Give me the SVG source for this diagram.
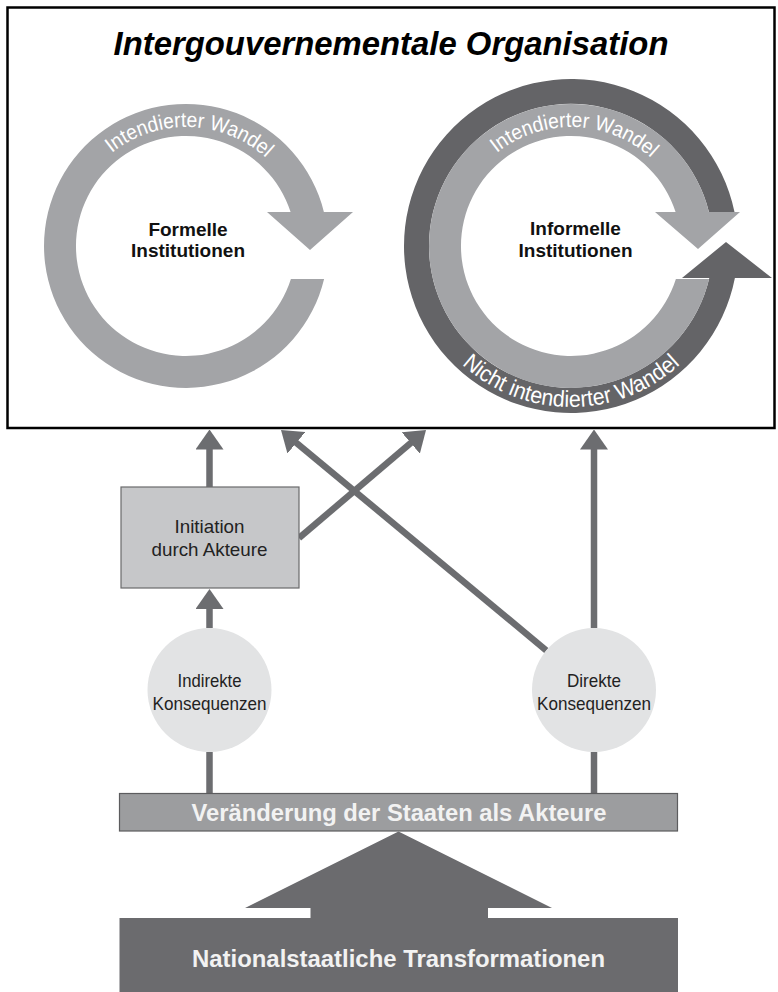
<svg xmlns="http://www.w3.org/2000/svg" width="778" height="992" viewBox="0 0 778 992">
<defs>
<style>
text{font-family:"Liberation Sans",Arial,sans-serif}
.title{font-size:33px;font-weight:bold;font-style:italic;fill:#000}
.inst{font-size:19px;font-weight:bold;fill:#111}
.ring-t{font-size:21px;fill:#fff}
.ring-b{font-size:23px;fill:#fff}
.lbl{font-size:19px;fill:#222}
.clbl{font-size:19px;fill:#222}
.bar-t{font-size:24px;font-weight:bold;fill:#f2f2f2}
.light{fill:#a3a4a7}
.dark{fill:#646467}
.conn{stroke:#6c6d70;stroke-width:6.5;fill:none}
.arr{marker-end:url(#ah)}
</style>
<marker id="ah" viewBox="0 0 20 28" refX="10" refY="14" markerWidth="20" markerHeight="28" markerUnits="userSpaceOnUse" orient="auto">
<path d="M0,0 L20,14 L0,28 Z" fill="#6c6d70"/>
</marker>
<path id="tpL" d="M67,246 A119,119 0 0 1 305,246"/>
<path id="tpR" d="M452,246 A119,119 0 0 1 690,246"/>
<path id="tpB" d="M410,246 A161,161 0 0 0 732,246"/>
</defs>
<rect width="778" height="992" fill="#fff"/>
<g id="org">
<rect x="7.5" y="7.5" width="767" height="420.5" fill="#fff" stroke="#000" stroke-width="2.5"/>
<text class="title" x="391" y="55" text-anchor="middle" textLength="555" lengthAdjust="spacingAndGlyphs">Intergouvernementale Organisation</text>
</g>
<g id="formelle">
<path class="light" d="M290.9,279 L324.1,279 A142,142 0 1 1 323.9,212 L353,212 L310,250 L267,212 L290.6,212 A110,110 0 1 0 290.9,279 Z"/>
<text class="ring-t"><textPath href="#tpL" startOffset="51%" text-anchor="middle" textLength="168" lengthAdjust="spacingAndGlyphs">Intendierter Wandel</textPath></text>
<text class="inst" x="188" y="236" text-anchor="middle">Formelle</text>
<text class="inst" x="188" y="257" text-anchor="middle">Institutionen</text>
</g>
<g id="informelle">
<path class="dark" d="M708.9,212 L734.5,212 A167,167 0 1 0 734.9,278 L772,278 L726,242 L682,278 L709.3,278 A142,142 0 1 1 708.9,212 Z"/>
<path class="light" d="M675.9,279 L709.1,279 A142,142 0 1 1 708.9,212 L740,212 L698,249 L655,212 L675.6,212 A110,110 0 1 0 675.9,279 Z"/>
<text class="ring-t"><textPath href="#tpR" startOffset="51%" text-anchor="middle" textLength="168" lengthAdjust="spacingAndGlyphs">Intendierter Wandel</textPath></text>
<text class="ring-b"><textPath href="#tpB" startOffset="50%" text-anchor="middle" textLength="240" lengthAdjust="spacingAndGlyphs">Nicht intendierter Wandel</textPath></text>
<text class="inst" x="575.5" y="235" text-anchor="middle">Informelle</text>
<text class="inst" x="575.5" y="257" text-anchor="middle">Institutionen</text>
</g>
<g id="connectors">
<line class="conn arr" x1="209.5" y1="487" x2="209.5" y2="439.5"/>
<line class="conn arr" x1="209.5" y1="628" x2="209.5" y2="599"/>
<line class="conn arr" x1="594" y1="628" x2="594" y2="439.5"/>
<line class="conn arr" x1="546.3" y1="650.4" x2="288.7" y2="436.4"/>
<line class="conn arr" x1="299" y1="538" x2="418.4" y2="436.5"/>
<line class="conn" x1="209.5" y1="752" x2="209.5" y2="793"/>
<line class="conn" x1="594" y1="752" x2="594" y2="793"/>
</g>
<g id="initiation">
<rect x="121" y="487" width="178" height="101" fill="#c6c7c9" stroke="#6a6a6c" stroke-width="1.2"/>
<text class="lbl" x="209.5" y="533" text-anchor="middle" textLength="70" lengthAdjust="spacingAndGlyphs">Initiation</text>
<text class="lbl" x="209.5" y="556" text-anchor="middle" textLength="116" lengthAdjust="spacingAndGlyphs">durch Akteure</text>
</g>
<g id="indirekte">
<circle cx="209.5" cy="690" r="62" fill="#e2e3e4"/>
<text class="clbl" x="209.5" y="687" text-anchor="middle" textLength="64" lengthAdjust="spacingAndGlyphs">Indirekte</text>
<text class="clbl" x="209.5" y="710" text-anchor="middle" textLength="114" lengthAdjust="spacingAndGlyphs">Konsequenzen</text>
</g>
<g id="direkte">
<circle cx="594" cy="690" r="62" fill="#e2e3e4"/>
<text class="clbl" x="594" y="687" text-anchor="middle" textLength="54" lengthAdjust="spacingAndGlyphs">Direkte</text>
<text class="clbl" x="594" y="710" text-anchor="middle" textLength="114" lengthAdjust="spacingAndGlyphs">Konsequenzen</text>
</g>
<g id="veraenderung">
<rect x="119.5" y="793.5" width="558" height="37.5" fill="#9c9d9f" stroke="#5c5c5e" stroke-width="1.2"/>
<text class="bar-t" x="399" y="821" text-anchor="middle" textLength="415" lengthAdjust="spacingAndGlyphs">Veränderung der Staaten als Akteure</text>
</g>
<g id="nationalstaatliche">
<path d="M398.5,831.5 L552,908 L488,908 L488,918 L678,918 L678,992 L119.5,992 L119.5,918 L310.5,918 L310.5,908 L245,908 Z" fill="#6b6b6e"/>
<text class="bar-t" x="398.5" y="967" text-anchor="middle" textLength="413" lengthAdjust="spacingAndGlyphs">Nationalstaatliche Transformationen</text>
</g>
</svg>
